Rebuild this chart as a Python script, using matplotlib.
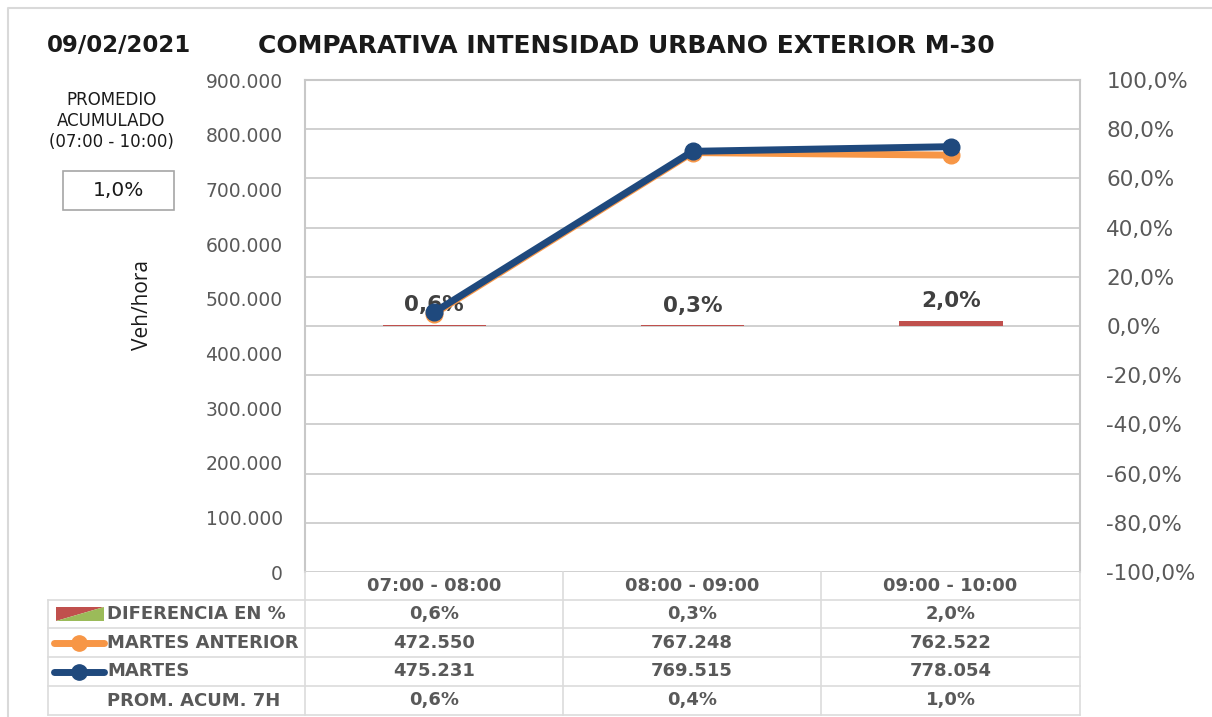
import matplotlib
matplotlib.use("Agg")
import matplotlib.pyplot as plt
from matplotlib.patches import Rectangle, Polygon
from matplotlib.lines import Line2D
import numpy as np

plt.rcParams['font.family'] = ['DejaVu Sans']

# data
horas = ["07:00 - 08:00", "08:00 - 09:00", "09:00 - 10:00"]
martes_anterior = [472550, 767248, 762522]
martes = [475231, 769515, 778054]
diferencia = [0.006, 0.003, 0.020]
prom_acum_7h = [0.006, 0.004, 0.010]
promedio_acumulado = 0.010
fecha = "09/02/2021"
titulo = "COMPARATIVA INTENSIDAD URBANO EXTERIOR M-30"
filas = ["DIFERENCIA EN %", "MARTES ANTERIOR", "MARTES", "PROM. ACUM. 7H"]

RED = "#c0504d"
GREEN = "#9bbb59"
ORANGE = "#f79646"
BLUE = "#1f497d"
GRID = "#c8c8c8"
TXT = "#595959"

W, H = 1212, 717
fig = plt.figure(figsize=(W / 100, H / 100), dpi=100)


def fx(px):
    return px / W


def fy(py):
    return 1 - py / H


def pct(v, dec=1):
    v = round(v * 100, dec) + 0.0
    return f"{v:.{dec}f}%".replace(".", ",")


def miles(v):
    return f"{v:,.0f}".replace(",", ".")


# main plot area
L, R, T, B = 305, 1080, 80, 572
ax2 = fig.add_axes([fx(L), fy(B), fx(R - L), fy(T) - fy(B)])  # % axis (bars, grid)
ax1 = fig.add_axes(ax2.get_position(), frameon=False)  # veh/hora axis (lines)

x = np.arange(len(horas))

# bars on the percentage axis
ax2.set_ylim(-1, 1)
ax2.set_xlim(-0.5, len(horas) - 0.5)
ax2.bar(x, diferencia, width=0.4, color=RED, zorder=2)
pticks = np.round(np.arange(-1, 1.01, 0.2), 2)
ax2.set_yticks(pticks)
ax2.yaxis.tick_right()
ax2.set_yticklabels([pct(v) for v in pticks], fontsize=15.5, color=TXT)
ax2.tick_params(axis="y", length=0, pad=19)
ax2.set_xticks([])
ax2.grid(axis="y", color=GRID, lw=1.2, zorder=0)
for s in ax2.spines.values():
    s.set_color(GRID)
    s.set_linewidth(1.5)
ax2.spines["bottom"].set_visible(False)
for xi, d in zip(x, diferencia):
    ax2.annotate(pct(d), (xi, d), xytext=(0, 7), textcoords="offset points",
                 ha="center", va="bottom", fontsize=15.5, fontweight="bold",
                 color="#404040", zorder=5)

# lines on the vehicle axis
ax1.set_ylim(0, 900000)
ax1.set_xlim(-0.5, len(horas) - 0.5)
ax1.patch.set_alpha(0)
ax1.plot(x, martes_anterior, color=ORANGE, lw=5, marker="o", ms=12,
         solid_capstyle="round", zorder=3)
ax1.plot(x, martes, color=BLUE, lw=5, marker="o", ms=12,
         solid_capstyle="round", zorder=4)
vticks = np.arange(0, 900001, 100000)
ax1.set_yticks(vticks)
ax1.set_yticklabels([miles(v) for v in vticks], fontsize=13.5, color=TXT)
ax1.tick_params(axis="y", length=0, pad=16)
ax1.set_xticks([])

# overlay for free drawing in pixel coordinates
ov = fig.add_axes([0, 0, 1, 1], frameon=False)
ov.set_xlim(0, W)
ov.set_ylim(H, 0)
ov.axis("off")
ov.patch.set_alpha(0)

# outer border
ov.plot([8, 8, W], [H, 8, 8], color="#d9d9d9", lw=1.5)

# titles
ov.text(119, 46, fecha, ha="center", va="center", fontsize=16.5, fontweight="bold", color="#1a1a1a")
ov.text(626, 46, titulo, ha="center", va="center", fontsize=18, fontweight="bold", color="#1a1a1a")
ov.text(111, 121, "PROMEDIO\nACUMULADO\n(07:00 - 10:00)", ha="center", va="center",
        fontsize=12, color="#1a1a1a", linespacing=1.22)
ov.add_patch(Rectangle((63, 171), 111, 39, fill=False, ec="#a6a6a6", lw=1.2))
ov.text(118.5, 191, pct(promedio_acumulado), ha="center", va="center", fontsize=14.5, color="#1a1a1a")
ov.text(142, 305, "Veh/hora", ha="center", va="center", rotation=90, fontsize=15,
        color="#1a1a1a", family=["Open Sans", "DejaVu Sans"])

# table
cols = [48, 305, 563, 821, 1080]
rows = [572, 600, 628, 657, 686, 715]
TG = "#dcdcdc"
for c in cols[1:]:
    ov.plot([c, c], [rows[0], rows[-1]], color=TG, lw=1.2)
ov.plot([cols[0], cols[0]], [rows[1], rows[-1]], color=TG, lw=1.2)
for r in rows[1:]:
    ov.plot([cols[0], cols[-1]], [r, r], color=TG, lw=1.2)

cell_vals = [
    [pct(v) for v in diferencia],
    [miles(v) for v in martes_anterior],
    [miles(v) for v in martes],
    [pct(v) for v in prom_acum_7h],
]
for j, h in enumerate(horas):
    cx = (cols[j + 1] + cols[j + 2]) / 2
    ov.text(cx, (rows[0] + rows[1]) / 2, h, ha="center", va="center",
            fontsize=13, fontweight="bold", color=TXT)
    for i in range(len(filas)):
        cy = (rows[i + 1] + rows[i + 2]) / 2
        ov.text(cx, cy, cell_vals[i][j], ha="center", va="center",
                fontsize=13, fontweight="bold", color=TXT)

# row labels with legend keys
for i, f in enumerate(filas):
    cy = (rows[i + 1] + rows[i + 2]) / 2
    ov.text(107, cy, f, ha="left", va="center", fontsize=13, fontweight="bold", color=TXT)
ky = (rows[1] + rows[2]) / 2
ov.add_patch(Polygon([(56, ky - 7), (104, ky - 7), (56, ky + 7)], color=RED, lw=0))
ov.add_patch(Polygon([(104, ky - 7), (104, ky + 7), (56, ky + 7)], color=GREEN, lw=0))
for i, col in ((2, ORANGE), (3, BLUE)):
    cy = (rows[i] + rows[i + 1]) / 2
    ov.add_line(Line2D([54, 104], [cy, cy], color=col, lw=5, solid_capstyle="round"))
    ov.add_line(Line2D([79], [cy], color=col, marker="o", ms=11))

fig.savefig("out.png", dpi=100)
